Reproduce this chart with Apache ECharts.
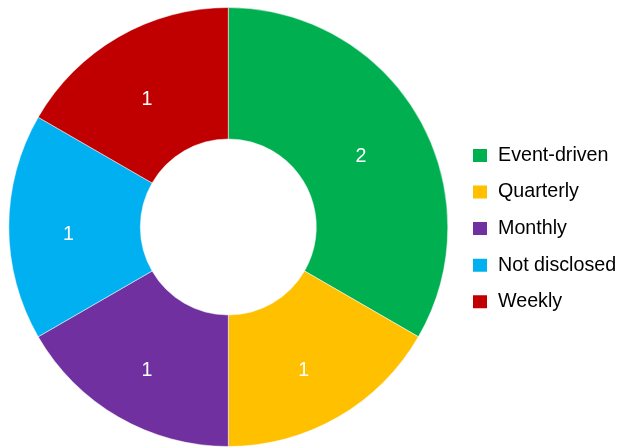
<!DOCTYPE html>
<html>
<head>
<meta charset="utf-8">
<script src="https://cdn.jsdelivr.net/npm/echarts@6/dist/echarts.min.js"></script>
<style>
html,body{margin:0;padding:0;background:#fff;}
#chart{width:618px;height:448px;}
</style>
</head>
<body>
<div id="chart"></div>
<script>
var categories = ['Event-driven', 'Quarterly', 'Monthly', 'Not disclosed', 'Weekly'];
var values = [2, 1, 1, 1, 1];
var colors = ['#00B050', '#FFC000', '#7030A0', '#00B0F0', '#C00000'];

var FONT = 'Liberation Sans, Arial, Helvetica, sans-serif';
var chart = echarts.init(document.getElementById('chart'), null, {renderer: 'canvas'});
var data = categories.map(function (c, i) {
  return {name: c, value: values[i], itemStyle: {color: colors[i]}};
});
chart.setOption({
  backgroundColor: '#fff',
  animation: false,
  legend: {
    orient: 'vertical',
    left: 466,
    top: 140.5,
    itemWidth: 16,
    itemHeight: 15,
    itemGap: 16.55,
    icon: 'rect',
    data: categories,
    textStyle: {
      fontFamily: FONT,
      fontSize: 19.7,
      color: '#000',
      padding: [0, 0, 0, 5]
    }
  },
  series: [{
    type: 'pie',
    center: [228.3, 227],
    radius: [88, 219.5],
    startAngle: 90,
    clockwise: true,
    avoidLabelOverlap: false,
    itemStyle: {borderColor: '#fff', borderWidth: 0.5},
    label: {
      show: true,
      position: 'inside',
      formatter: '{c}',
      color: '#fff',
      fontSize: 19.7,
      fontFamily: FONT
    },
    labelLayout: {dx: -3, dy: 8},
    labelLine: {show: false},
    emphasis: {disabled: true},
    data: data
  }]
});
</script>
</body>
</html>
